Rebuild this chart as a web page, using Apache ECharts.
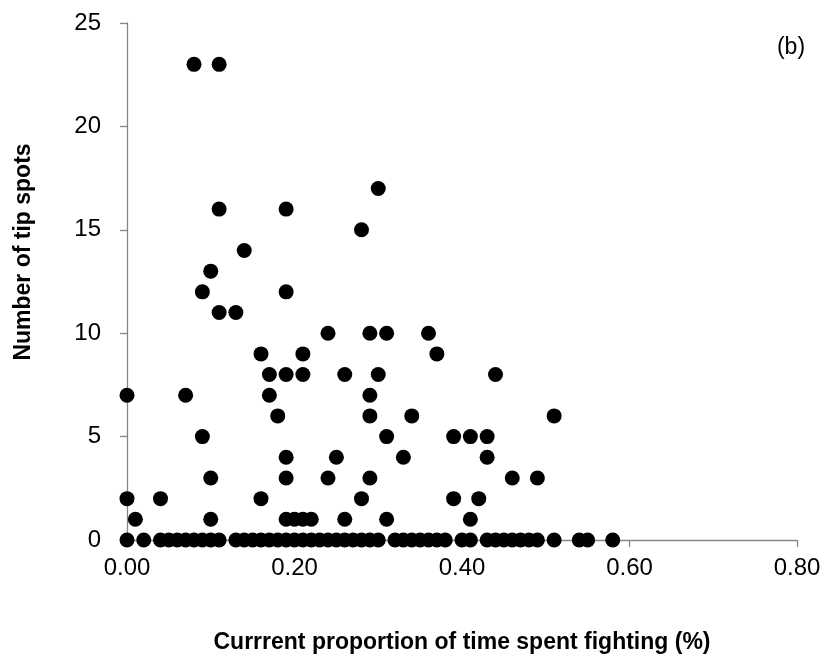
<!DOCTYPE html>
<html>
<head>
<meta charset="utf-8">
<script src="https://cdn.jsdelivr.net/npm/echarts@6/dist/echarts.min.js"></script>
<style>
  html, body { margin: 0; padding: 0; background: #fff; }
  #chart { width: 830px; height: 662px; }
</style>
</head>
<body>
<div id="chart"></div>
<script>
// proportion of time spent fighting, grouped by number of tip spots
var spots0 = [0.00, 0.02, 0.04, 0.05, 0.06, 0.07, 0.08, 0.09, 0.10, 0.11,
  0.13, 0.14, 0.15, 0.16, 0.17, 0.18, 0.19, 0.20, 0.21, 0.22, 0.23, 0.24, 0.25, 0.26, 0.27, 0.28, 0.29, 0.30,
  0.32, 0.33, 0.34, 0.35, 0.36, 0.37, 0.38, 0.40, 0.41,
  0.43, 0.44, 0.45, 0.46, 0.47, 0.48, 0.49, 0.51, 0.54, 0.55, 0.58];
var spots1 = [0.01, 0.10, 0.19, 0.20, 0.21, 0.22, 0.26, 0.31, 0.41];
var spots2 = [0.00, 0.04, 0.16, 0.28, 0.39, 0.42];
var spots3 = [0.10, 0.19, 0.24, 0.29, 0.46, 0.49];
var spots4 = [0.19, 0.25, 0.33, 0.43];
var spots5 = [0.09, 0.31, 0.39, 0.41, 0.43];
var spots6 = [0.18, 0.29, 0.34, 0.51];
var spots7 = [0.00, 0.07, 0.17, 0.29];
var spots8 = [0.17, 0.19, 0.21, 0.26, 0.30, 0.44];
var spots9 = [0.16, 0.21, 0.37];
var spots10 = [0.24, 0.29, 0.31, 0.36];
var spots11 = [0.11, 0.13];
var spots12 = [0.09, 0.19];
var spots13 = [0.10];
var spots14 = [0.14];
var spots15 = [0.28];
var spots16 = [0.11, 0.19];
var spots17 = [0.30];
var spots23 = [0.08, 0.11];

var groups = [
  [0, spots0], [1, spots1], [2, spots2], [3, spots3], [4, spots4], [5, spots5],
  [6, spots6], [7, spots7], [8, spots8], [9, spots9], [10, spots10], [11, spots11],
  [12, spots12], [13, spots13], [14, spots14], [15, spots15], [16, spots16],
  [17, spots17], [23, spots23]
];

var points = [];
groups.forEach(function (g) {
  g[1].forEach(function (x) { points.push([x, g[0]]); });
});

var font = "Liberation Sans, Arial, sans-serif";
var axisGrey = "#868686";

var chart = echarts.init(document.getElementById("chart"));
chart.setOption({
  backgroundColor: "#fff",
  animation: false,
  grid: { left: 127, right: 33, top: 23, bottom: 122 },
  xAxis: {
    type: "value",
    min: 0,
    max: 0.8,
    interval: 0.2,
    splitLine: { show: false },
    axisLine: { lineStyle: { color: axisGrey, width: 1.3 } },
    axisTick: { show: true, length: 7, lineStyle: { color: axisGrey, width: 1.3 } },
    axisLabel: {
      margin: 16,
      color: "#000",
      fontFamily: font,
      fontSize: 24,
      formatter: function (v) { return v.toFixed(2); }
    },
    name: "Currrent proportion of time spent fighting (%)",
    nameLocation: "middle",
    nameGap: 91,
    nameTextStyle: { color: "#000", fontFamily: font, fontSize: 23, fontWeight: "bold" }
  },
  yAxis: {
    type: "value",
    min: 0,
    max: 25,
    interval: 5,
    splitLine: { show: false },
    axisLine: { show: true, lineStyle: { color: axisGrey, width: 1.3 } },
    axisTick: { show: true, length: 7, lineStyle: { color: axisGrey, width: 1.3 } },
    axisLabel: { margin: 26, color: "#000", fontFamily: font, fontSize: 24 }
  },
  graphic: [
    {
      type: "text",
      x: 24,
      y: 252,
      rotation: Math.PI / 2,
      style: {
        text: "Number of tip spots",
        fill: "#000",
        font: "bold 23px " + font,
        align: "center",
        verticalAlign: "middle"
      }
    },
    {
      type: "text",
      x: 791,
      y: 48,
      style: {
        text: "(b)",
        fill: "#000",
        font: "23px " + font,
        align: "center",
        verticalAlign: "middle"
      }
    }
  ],
  series: [{
    type: "scatter",
    data: points,
    symbol: "circle",
    symbolSize: 15,
    clip: false,
    z: 5,
    itemStyle: { color: "#000", opacity: 1 }
  }]
});
</script>
</body>
</html>
